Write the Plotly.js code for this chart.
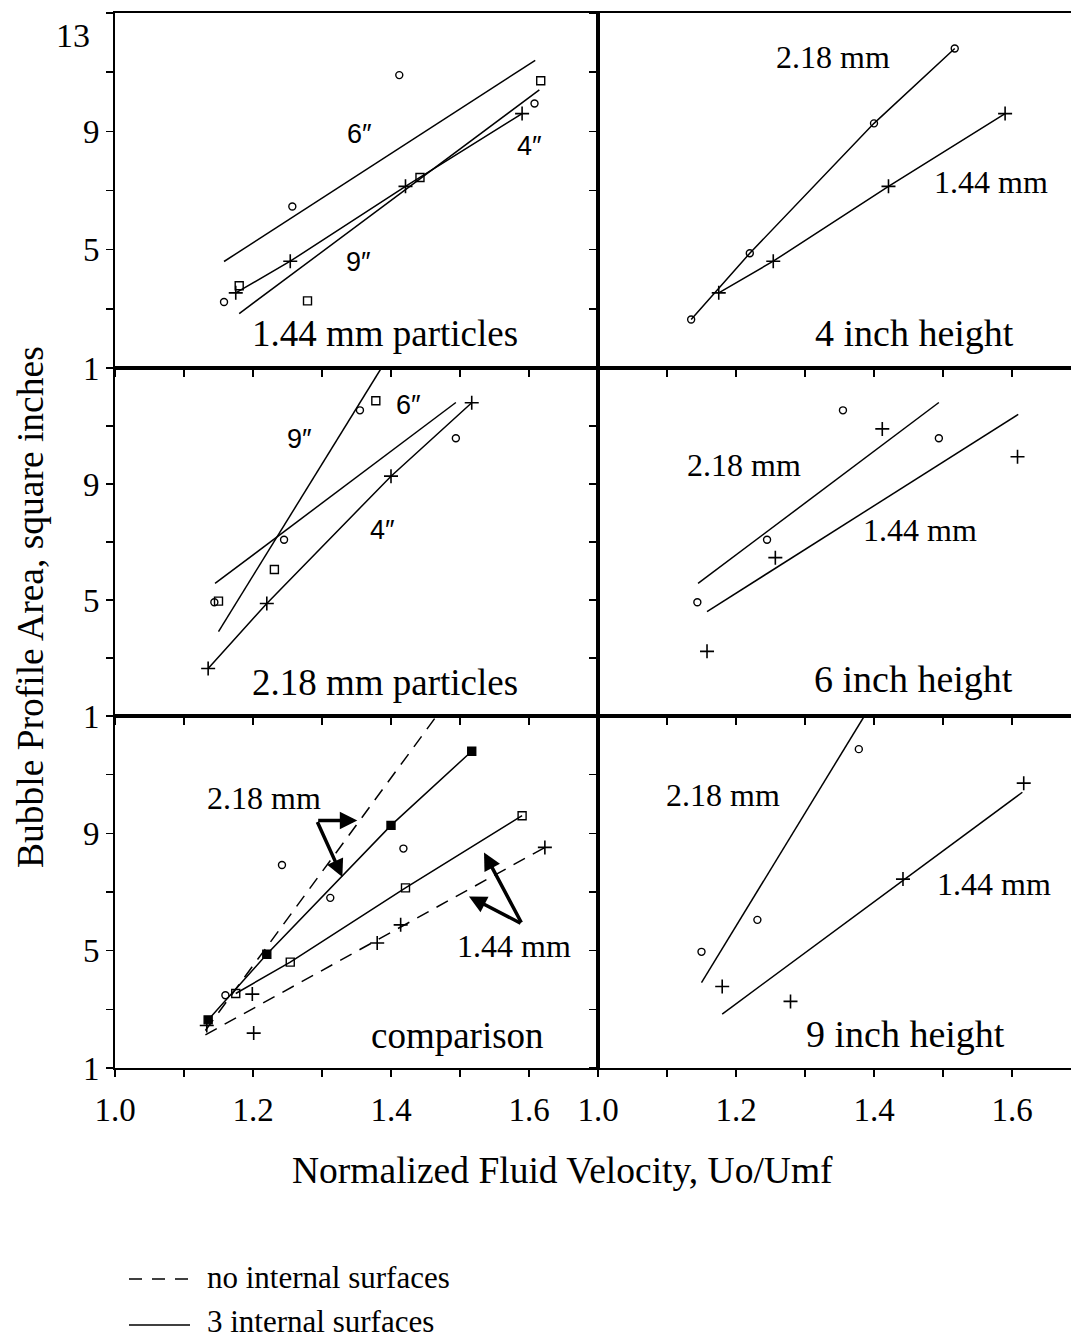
<!DOCTYPE html>
<html><head><meta charset="utf-8">
<script src="https://cdn.plot.ly/plotly-3.0.1.min.js"></script>
<style>html,body{margin:0;padding:0;background:#fff}</style>
</head><body>
<div id="chart" style="width:1071px;height:1340px"></div>
<script>
// ---------------- data ----------------
const xTickVals = [1.0,1.1,1.2,1.3,1.4,1.5,1.6,1.7];
const xTickText = ['1.0','','1.2','','1.4','','1.6',''];
const yTickVals = [1,3,5,7,9,11,13];
const yTickText = ['1','','5','','9','',''];

// 1.44 mm particles, 3 internal surfaces, by bed height
const p144_h4_x = [1.175,1.254,1.421,1.590];
const p144_h4_y = [3.54,4.61,7.14,9.60];
const p144_h6_x = [1.158,1.257,1.412,1.608];
const p144_h6_y = [3.23,6.46,10.90,9.94];
const p144_h9_x = [1.180,1.279,1.442,1.617];
const p144_h9_y = [3.78,3.27,7.44,10.71];
// 2.18 mm particles, 3 internal surfaces, by bed height
const p218_h4_x = [1.135,1.220,1.400,1.517];
const p218_h4_y = [2.64,4.88,9.27,11.80];
const p218_h6_x = [1.144,1.245,1.355,1.494];
const p218_h6_y = [4.92,7.08,11.54,10.58];
const p218_h9_x = [1.150,1.231,1.378];
const p218_h9_y = [4.96,6.05,11.87];
// fitted lines (end points)
const fit144_h6_x = [1.158,1.609];
const fit144_h6_y = [4.60,11.40];
const fit144_h9_x = [1.180,1.615];
const fit144_h9_y = [2.84,10.40];
const fit218_h6_x = [1.145,1.494];
const fit218_h6_y = [5.57,11.81];
const fit218_h9_x = [1.150,1.386];
const fit218_h9_y = [3.91,13.0];
// no internal surfaces (comparison panel)
const no218_x = [1.160,1.242,1.312,1.418];
const no218_y = [3.48,7.92,6.80,8.48];
const no144_x = [1.133,1.199,1.201,1.380,1.414,1.623];
const no144_y = [2.45,3.52,2.19,5.26,5.88,8.52];
const fitNo144_x = [1.131,1.623];
const fitNo144_y = [2.13,8.52];
const fitNo218_x = [1.131,1.466];
const fitNo218_y = [2.28,13.0];

// ---------------- styling helpers ----------------
const SERIF = 'Liberation Serif, Times New Roman, serif';
const SANS = 'Liberation Sans, Arial, sans-serif';
const W = 1071, H = 1340;
const XL = [115/W, 598/W], XR = [598/W, 1];
const YT = [1-368/H, 1-13/H], YM = [1-716/H, 1-368/H], YB = [1-1068/H, 1-716/H];
const rangeL = [1.0, 1.7], rangeR = [1.0, 1.0 + (W-598)/690];

function xax(domain, range, anchor, labels) {
  return {domain, range, anchor, showline:true, linecolor:'black', linewidth:2, mirror:true,
    ticks:'outside', ticklen:7, tickwidth:1.5, tickcolor:'black',
    tickmode:'array', tickvals:xTickVals, ticktext:xTickText, showticklabels:labels,
    ticklabelstandoff:4,
    tickfont:{family:SERIF, size:33, color:'black'}, showgrid:false, zeroline:false, fixedrange:true};
}
function yax(domain, anchor, labels) {
  return {domain, range:[1,13], anchor, showline:true, linecolor:'black', linewidth:2, mirror:labels,
    ticks:'outside', ticklen:7, tickwidth:1.5, tickcolor:'black',
    tickmode:'array', tickvals:yTickVals, ticktext:yTickText, showticklabels:labels,
    ticklabelstandoff:0,
    tickfont:{family:SERIF, size:33, color:'black'}, showgrid:false, zeroline:false, fixedrange:true};
}

const LW = 1.5;
function line(x, y, xa, ya, dash) {
  return {x, y, xaxis:xa, yaxis:ya, mode:'lines', line:{color:'black', width:LW, dash:dash||'solid'}, hoverinfo:'skip'};
}
function pts(x, y, xa, ya, symbol, withLine) {
  const isCross = symbol === 'cross-thin';
  return {x, y, xaxis:xa, yaxis:ya, mode: withLine ? 'lines+markers' : 'markers',
    line:{color:'black', width:LW},
    marker:{symbol, size: isCross ? 10 : (symbol.indexOf('square')===0 ? 8 : 7),
      color:'black',
      line:{color:'black', width: isCross ? 1.6 : 1.4}}, hoverinfo:'skip'};
}

const traces = [
  // top-left: 1.44 mm particles
  line(fit144_h6_x, fit144_h6_y, 'x', 'y'),
  line(fit144_h9_x, fit144_h9_y, 'x', 'y'),
  pts(p144_h6_x, p144_h6_y, 'x', 'y', 'circle-open', false),
  pts(p144_h9_x, p144_h9_y, 'x', 'y', 'square-open', false),
  pts(p144_h4_x, p144_h4_y, 'x', 'y', 'cross-thin', true),
  // top-right: 4 inch height
  pts(p218_h4_x, p218_h4_y, 'x2', 'y2', 'circle-open', true),
  pts(p144_h4_x, p144_h4_y, 'x2', 'y2', 'cross-thin', true),
  // middle-left: 2.18 mm particles
  line(fit218_h9_x, fit218_h9_y, 'x3', 'y3'),
  line(fit218_h6_x, fit218_h6_y, 'x3', 'y3'),
  pts(p218_h6_x, p218_h6_y, 'x3', 'y3', 'circle-open', false),
  pts(p218_h9_x, p218_h9_y, 'x3', 'y3', 'square-open', false),
  pts(p218_h4_x, p218_h4_y, 'x3', 'y3', 'cross-thin', true),
  // middle-right: 6 inch height
  line(fit218_h6_x, fit218_h6_y, 'x4', 'y4'),
  line(fit144_h6_x, fit144_h6_y, 'x4', 'y4'),
  pts(p218_h6_x, p218_h6_y, 'x4', 'y4', 'circle-open', false),
  pts(p144_h6_x, p144_h6_y, 'x4', 'y4', 'cross-thin', false),
  // bottom-left: comparison
  line(fitNo218_x, fitNo218_y, 'x5', 'y5', '13px,9px'),
  line(fitNo144_x, fitNo144_y, 'x5', 'y5', '13px,9px'),
  pts(no218_x, no218_y, 'x5', 'y5', 'circle-open', false),
  pts(no144_x, no144_y, 'x5', 'y5', 'cross-thin', false),
  pts(p144_h4_x, p144_h4_y, 'x5', 'y5', 'square-open', true),
  pts(p218_h4_x, p218_h4_y, 'x5', 'y5', 'square', true),
  // bottom-right: 9 inch height
  line(fit218_h9_x, fit218_h9_y, 'x6', 'y6'),
  line(fit144_h9_x, fit144_h9_y, 'x6', 'y6'),
  pts(p218_h9_x, p218_h9_y, 'x6', 'y6', 'circle-open', false),
  pts(p144_h9_x, p144_h9_y, 'x6', 'y6', 'cross-thin', false)
];

function lab(text, x, y, xr, yr, size, family) {
  return {text, x, y, xref:xr, yref:yr, showarrow:false, xanchor:'center', yanchor:'middle',
    font:{family: family || SERIF, size, color:'black'}};
}
function arrow(xh, yh, xt, yt, xr, yr) {
  return {x:xh, y:yh, ax:xt, ay:yt, xref:xr, yref:yr, axref:xr, ayref:yr, text:'', showarrow:true,
    arrowhead:2, arrowsize:1, arrowwidth:3.5, arrowcolor:'black', standoff:0, startstandoff:0};
}

const annotations = [
  // top-left
  lab('6\u2033', 1.355, 8.9, 'x', 'y', 27, SANS),
  lab('9\u2033', 1.353, 4.58, 'x', 'y', 27, SANS),
  lab('4\u2033', 1.600, 8.5, 'x', 'y', 27, SANS),
  lab('1.44 mm particles', 1.391, 2.15, 'x', 'y', 37),
  // top-right
  lab('2.18 mm', 1.340, 11.5, 'x2', 'y2', 32),
  lab('1.44 mm', 1.570, 7.28, 'x2', 'y2', 32),
  lab('4 inch height', 1.458, 2.18, 'x2', 'y2', 38),
  // middle-left
  lab('9\u2033', 1.267, 10.55, 'x3', 'y3', 27, SANS),
  lab('6\u2033', 1.426, 11.74, 'x3', 'y3', 27, SANS),
  lab('4\u2033', 1.388, 7.42, 'x3', 'y3', 27, SANS),
  lab('2.18 mm particles', 1.391, 2.15, 'x3', 'y3', 37),
  // middle-right
  lab('2.18 mm', 1.211, 9.66, 'x4', 'y4', 32),
  lab('1.44 mm', 1.466, 7.42, 'x4', 'y4', 32),
  lab('6 inch height', 1.457, 2.28, 'x4', 'y4', 38),
  // bottom-left
  lab('2.18 mm', 1.216, 10.2, 'x5', 'y5', 32),
  lab('1.44 mm', 1.578, 5.15, 'x5', 'y5', 32),
  lab('comparison', 1.497, 2.1, 'x5', 'y5', 37),
  arrow(1.3512, 9.44, 1.2923, 9.44, 'x5', 'y5'),
  arrow(1.3295, 7.51, 1.2923, 9.44, 'x5', 'y5'),
  arrow(1.5348, 8.35, 1.590, 5.91, 'x5', 'y5'),
  arrow(1.513, 6.85, 1.590, 5.91, 'x5', 'y5'),
  // bottom-right
  lab('2.18 mm', 1.181, 10.31, 'x6', 'y6', 32),
  lab('1.44 mm', 1.574, 7.28, 'x6', 'y6', 32),
  lab('9 inch height', 1.446, 2.17, 'x6', 'y6', 38),
  // top label of the y scale
  {text:'13', x:92/W, y:12.25, xref:'paper', yref:'y', xanchor:'right', yanchor:'middle', showarrow:false,
   font:{family:SERIF, size:34, color:'black'}},
  // axis titles
  {text:'Bubble Profile Area, square inches', x:30/W, y:1-607/H, xref:'paper', yref:'paper', textangle:-90,
   showarrow:false, xanchor:'center', yanchor:'middle', font:{family:SERIF, size:37.5, color:'black'}},
  {text:'Normalized Fluid Velocity, Uo/Umf', x:562/W, y:1-1170/H, xref:'paper', yref:'paper',
   showarrow:false, xanchor:'center', yanchor:'middle', font:{family:SERIF, size:37.5, color:'black'}},
  // legend texts
  {text:'no internal surfaces', x:205/W, y:1-1277/H, xref:'paper', yref:'paper', showarrow:false,
   xanchor:'left', yanchor:'middle', font:{family:SERIF, size:31, color:'black'}},
  {text:'3 internal surfaces', x:205/W, y:1-1321/H, xref:'paper', yref:'paper', showarrow:false,
   xanchor:'left', yanchor:'middle', font:{family:SERIF, size:31, color:'black'}}
];

const shapes = [
  {type:'line', xref:'paper', yref:'paper', x0:129/W, x1:190/W, y0:1-1279/H, y1:1-1279/H,
   line:{color:'black', width:1.5, dash:'13px,10px'}},
  {type:'line', xref:'paper', yref:'paper', x0:129/W, x1:190/W, y0:1-1325/H, y1:1-1325/H,
   line:{color:'black', width:1.5}}
];

const layout = {
  width:W, height:H, margin:{l:0, r:0, t:0, b:0}, paper_bgcolor:'white', plot_bgcolor:'white',
  showlegend:false,
  xaxis: xax(XL, rangeL, 'y', false),  yaxis: yax(YT, 'x', true),
  xaxis2: xax(XR, rangeR, 'y2', false), yaxis2: yax(YT, 'x2', false),
  xaxis3: xax(XL, rangeL, 'y3', false), yaxis3: yax(YM, 'x3', true),
  xaxis4: xax(XR, rangeR, 'y4', false), yaxis4: yax(YM, 'x4', false),
  xaxis5: xax(XL, rangeL, 'y5', true),  yaxis5: yax(YB, 'x5', true),
  xaxis6: xax(XR, rangeR, 'y6', true),  yaxis6: yax(YB, 'x6', false),
  annotations, shapes
};

Plotly.newPlot('chart', traces, layout, {displayModeBar:false, staticPlot:true});
</script>
</body></html>
